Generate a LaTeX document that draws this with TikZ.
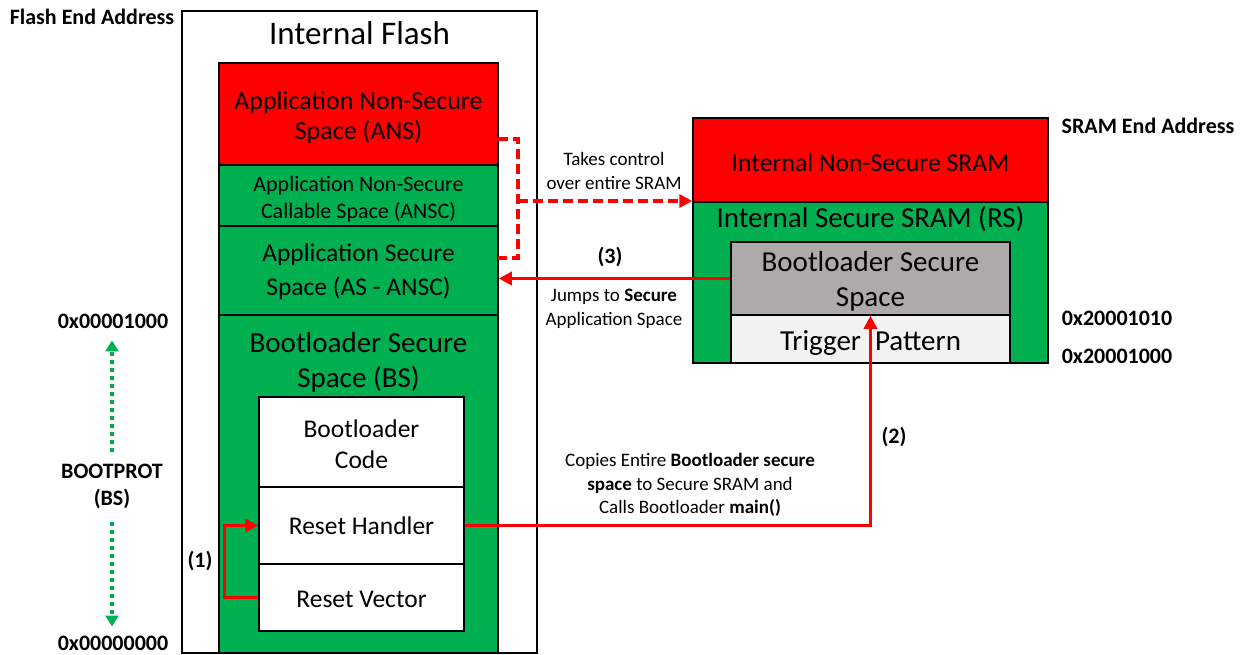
\documentclass[tikz,border=0pt]{standalone}
\usepackage{fontspec}
\setmainfont{Carlito}
\usetikzlibrary{arrows.meta}
\definecolor{myred}{HTML}{FF0000}
\definecolor{mygreen}{HTML}{00B050}
\definecolor{mygray}{HTML}{AEAAAA}
\definecolor{mylight}{HTML}{F2F2F2}
\newcommand\myfs[2]{\fontsize{#1}{#2}\selectfont}
\begin{document}
\begin{tikzpicture}[x=1pt,y=-1pt,
  blk/.style={draw=black, line width=1.5pt, inner sep=0pt, align=center},
  redbox/.style={blk, fill=myred},
  grnbox/.style={blk, fill=mygreen},
  whbox/.style={blk, fill=white},
  lbl/.style={inner sep=0pt, align=center},
  boldlbl/.style={inner sep=0pt, align=center, font=\myfs{22}{27}\bfseries},
  note/.style={inner sep=0pt, align=center, font=\myfs{19}{23.5}},
  redarrow/.style={draw=myred, line width=3.5pt, -{Triangle[length=13pt,width=13pt]}},
  reddash/.style={draw=myred, line width=3.5pt, dash pattern=on 10pt off 5pt},
  grnarrow/.style={draw=mygreen, line width=4pt, dash pattern=on 4pt off 4pt, -{Triangle[length=11pt,width=13pt]}}
]
\useasboundingbox (0,0) rectangle (1249,655);

% Flash
\node[blk, fill=white, minimum width=355pt, minimum height=642pt] (flash) at (359.5,332) {};
\node[lbl, font=\myfs{33}{38}] (flashtitle) at (359.5,33) {Internal Flash};
\node[redbox, minimum width=279pt, minimum height=102pt] (ans) at (358.5,114) {};
\node[lbl, font=\myfs{26}{30}] (anstext) at (358.5,118) {Application Non-Secure\\Space (ANS)};
\node[grnbox, minimum width=279pt, minimum height=61pt] (ansc) at (358.5,195.5) {};
\node[lbl, font=\myfs{22}{27}] (ansctext) at (358.5,199.5) {Application Non-Secure\\Callable Space (ANSC)};
\node[grnbox, minimum width=279pt, minimum height=89pt] (as) at (358.5,270.5) {};
\node[lbl, font=\myfs{25.5}{34}] (astext) at (358.5,271.5) {Application Secure\\Space (AS - ANSC)};
\node[grnbox, minimum width=279pt, minimum height=338pt] (bs) at (358.5,484) {};
\node[lbl, font=\myfs{29}{35}] (bstext) at (358.5,362) {Bootloader Secure\\Space (BS)};
\node[whbox, minimum width=205pt, minimum height=90pt] (bc) at (361.5,442) {};
\node[lbl, font=\myfs{25.5}{31}] (bctext) at (361.5,444) {Bootloader\\Code};
\node[whbox, minimum width=205pt, minimum height=77pt, font=\myfs{25.5}{31}] (rh) at (361.5,525.5) {Reset Handler};
\node[whbox, minimum width=205pt, minimum height=67pt] (rv) at (361.5,597.5) {};
\node[lbl, font=\myfs{25.5}{31}] (rvtext) at (361.5,599.5) {Reset Vector};

% SRAM
\node[redbox, minimum width=355pt, minimum height=84pt] (nsram) at (870.5,160) {};
\node[lbl, font=\myfs{25.7}{30}] (nsramtext) at (870.5,163) {Internal Non-Secure SRAM};
\node[grnbox, minimum width=355pt, minimum height=161pt] (ssram) at (870.5,282.5) {};
\node[lbl, font=\myfs{29}{34}] (ssramtext) at (870.5,219) {Internal Secure SRAM (RS)};
\node[blk, fill=mygray, minimum width=279pt, minimum height=73pt] (gray) at (870.5,278.5) {};
\node[lbl, font=\myfs{29}{35}] (graytext) at (870.5,281.5) {Bootloader Secure\\Space};
\node[blk, fill=mylight, minimum width=279pt, minimum height=48pt] (trig) at (870.5,339) {};
\node[lbl, font=\myfs{29}{34}] (trigtext) at (870.5,343) {Trigger\hspace{14pt}Pattern};

% Address labels
\node[boldlbl] (flashend) at (92,17) {Flash End Address};
\node[boldlbl] (sramend) at (1148,126) {SRAM End Address};
\node[boldlbl] (s1010) at (1117,318) {0x20001010};
\node[boldlbl] (s1000) at (1117,356) {0x20001000};
\node[boldlbl] (addr1) at (113,321) {0x00001000};
\node[boldlbl] (addr0) at (113,643) {0x00000000};
\node[boldlbl] (bootprot) at (112,486) {BOOTPROT\\(BS)};

\draw[grnarrow, shorten <=11pt, shorten >=12pt] (bootprot.north) -- (bootprot.north |- addr1.south);
\draw[grnarrow, shorten <=13pt, shorten >=9pt] (bootprot.south) -- (bootprot.south |- addr0.north);

% Arrow (1)
\draw[redarrow] (rv.west) -- ++(-34,0) |- (rh.west);
\node[boldlbl] (l1) at (200,561) {(1)};

% Arrow (2)
\draw[redarrow] (rh.east) -| (gray.south);
\node[boldlbl] (l2) at (894,437) {(2)};
\node[note] (n2) at (690,485) {Copies Entire \textbf{Bootloader secure}\\\textbf{space} to Secure SRAM and\\Calls Bootloader \textbf{main()}};

% Arrow (3)
\draw[redarrow] (gray.west) -- (gray.west -| as.east);
\node[boldlbl] (l3) at (610,257) {(3)};
\node[note] (n3) at (614,309) {Jumps to \textbf{Secure}\\Application Space};

% Dashed bracket
\coordinate (dA) at (498,139);
\coordinate (dB) at (498,258);
\coordinate (dC) at (518,201);
\draw[reddash] (dA) -| (dC) |- (dB);
\draw[reddash, -{Triangle[length=13pt,width=13pt]}] (dC) -- (dC -| nsram.west);
\node[note] (n1) at (614,171) {Takes control\\over entire SRAM};
\end{tikzpicture}
\end{document}
